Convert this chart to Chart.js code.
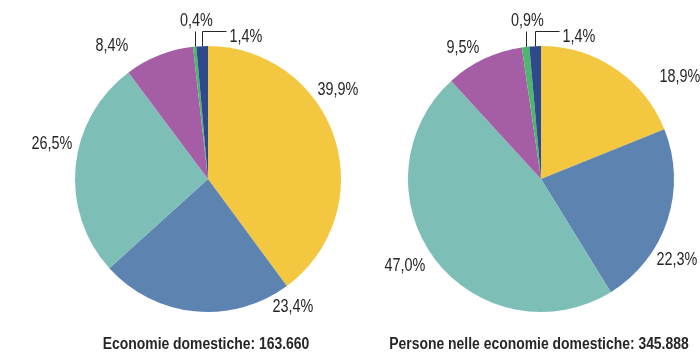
<!DOCTYPE html>
<html>
<head>
<meta charset="utf-8">
<script src="https://cdn.jsdelivr.net/npm/chart.js@4/dist/chart.umd.min.js"></script>
<style>
  html, body { margin: 0; padding: 0; background: #fff; }
  #wrap { position: relative; width: 700px; height: 353px; overflow: hidden; }
  #wrap canvas { position: absolute; left: 0; top: 0; }
  .caption {
    position: absolute; top: 335px; white-space: nowrap; line-height: 18px;
    font-family: "Liberation Sans", Arial, sans-serif;
    font-weight: bold; font-size: 16px; color: #262626;
    transform: translateX(-50%) scaleX(0.87); transform-origin: center;
  }
</style>
</head>
<body>
<div id="wrap">
  <canvas id="c1" width="700" height="353"></canvas>
  <canvas id="c2" width="700" height="353"></canvas>
  <div class="caption" id="t1" style="left:206px"></div>
  <div class="caption" id="t2" style="left:539px"></div>
</div>
<script>
// Household types, share in percent
const categories = ['Tipo 1', 'Tipo 2', 'Tipo 3', 'Tipo 4', 'Tipo 5', 'Tipo 6'];
const householdShares = [39.9, 23.4, 26.5, 8.4, 0.4, 1.4];
const personShares = [18.9, 22.3, 47.0, 9.5, 0.9, 1.4];
const householdTitle = 'Economie domestiche: 163.660';
const personTitle = 'Persone nelle economie domestiche: 345.888';

const sliceColors = ['#F3C740', '#5D84B1', '#7DBEB7', '#A55EA5', '#4DB86B', '#2F4A8C'];

const fmt = v => v.toFixed(1).replace('.', ',') + '%';

// Label placement relative to the pie centre; 'up' and 'right' use leader lines
const householdLabelLayout = [
  { dx: 130, dy: -89 }, { dx: 85, dy: 128 }, { dx: -156, dy: -35 },
  { dx: -96, dy: -133 }, { leader: 'up' }, { leader: 'right' }
];
const personLabelLayout = [
  { dx: 139, dy: -102 }, { dx: 136, dy: 81 }, { dx: -136, dy: 87 },
  { dx: -78, dy: -131 }, { leader: 'up' }, { leader: 'right' }
];

// condensed look: regular face squeezed horizontally
function narrowText(ctx, text, x, y, align) {
  ctx.save();
  ctx.translate(x, y);
  ctx.scale(0.8, 1);
  ctx.textAlign = align;
  ctx.textBaseline = 'middle';
  ctx.fillText(text, 0, 0);
  ctx.restore();
}

const labelPlugin = {
  id: 'sliceLabels',
  afterDatasetsDraw(chart, args, opts) {
    const ctx = chart.ctx;
    const meta = chart.getDatasetMeta(0);
    const data = chart.data.datasets[0].data;
    ctx.save();
    ctx.font = '18px "Liberation Sans", Arial, sans-serif';
    ctx.fillStyle = '#262626';
    ctx.strokeStyle = '#262626';
    ctx.lineWidth = 1;
    meta.data.forEach((arc, i) => {
      const p = arc.getProps(['x', 'y', 'startAngle', 'endAngle', 'outerRadius'], true);
      const lay = opts.layout[i];
      const text = fmt(data[i]);
      if (!lay.leader) {
        narrowText(ctx, text, p.x + lay.dx, p.y + lay.dy, 'center');
        return;
      }
      const mid = (p.startAngle + p.endAngle) / 2;
      const ex = Math.round(p.x + p.outerRadius * Math.cos(mid)) + 0.5;
      const ey = p.y + p.outerRadius * Math.sin(mid);
      const topY = p.y - p.outerRadius - 14.5;
      ctx.beginPath();
      ctx.moveTo(ex, ey);
      ctx.lineTo(ex, topY);
      if (lay.leader === 'right') {
        ctx.lineTo(ex + 24, topY);
      }
      ctx.stroke();
      if (lay.leader === 'up') {
        narrowText(ctx, text, ex + 1, topY - 10, 'center');
      } else {
        narrowText(ctx, text, ex + 27, topY + 6, 'left');
      }
    });
    ctx.restore();
  }
};

function makePie(id, values, layout, padding) {
  return new Chart(document.getElementById(id), {
    type: 'pie',
    data: {
      labels: categories,
      datasets: [{ data: values, backgroundColor: sliceColors, borderWidth: 0 }]
    },
    options: {
      responsive: false,
      animation: false,
      events: [],
      layout: { padding },
      plugins: {
        legend: { display: false },
        tooltip: { enabled: false },
        sliceLabels: { layout }
      }
    },
    plugins: [labelPlugin]
  });
}

// Square chart areas of 266px, centred at (208,179) and (541,179)
makePie('c1', householdShares, householdLabelLayout, { left: 75, right: 359, top: 46, bottom: 41 });
makePie('c2', personShares, personLabelLayout, { left: 408, right: 26, top: 46, bottom: 41 });

document.getElementById('t1').textContent = householdTitle;
document.getElementById('t2').textContent = personTitle;
</script>
</body>
</html>
